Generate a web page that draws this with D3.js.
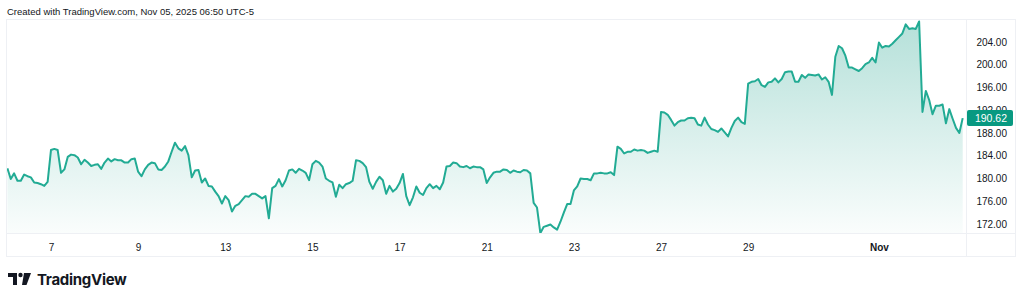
<!DOCTYPE html>
<html><head><meta charset="utf-8">
<script src="https://cdn.jsdelivr.net/npm/d3@7"></script>
<style>
html,body{margin:0;padding:0;background:#fff;}
svg{display:block;font-family:"Liberation Sans",Arial,sans-serif;}
</style></head>
<body><svg id="c" width="1024" height="302"></svg>
<script>
// 30-minute bars (regular session), Oct 6 – Nov 4 2025
const prices = [
181.8,179.9,180.9,179.6,179.6,180.7,180.4,180.2,179.3,179.2,179.0,178.7,179.4,
185.0,185.2,185.0,181.0,181.6,183.8,184.2,184.1,183.7,182.5,183.3,182.8,182.2,
182.4,182.5,181.7,182.8,183.5,183.0,183.4,183.2,183.2,182.8,182.8,183.4,183.5,
181.2,180.4,181.6,182.4,182.8,182.7,181.6,181.5,182.1,183.0,184.7,186.3,185.3,
184.9,185.7,184.1,180.2,181.4,181.5,179.3,180.0,178.7,178.6,177.7,176.9,175.6,
176.9,176.2,174.2,175.2,175.5,176.2,176.9,176.8,177.3,177.3,176.9,176.5,176.9,
173.0,178.3,178.7,179.9,178.6,179.7,181.4,181.6,181.0,181.7,181.4,181.0,179.7,
182.5,183.1,182.8,182.1,180.0,179.6,179.3,176.8,178.9,178.3,179.0,179.2,179.6,
183.2,183.1,182.7,182.0,179.4,178.2,179.4,180.3,179.7,177.3,178.7,177.7,178.2,
179.2,180.8,176.9,175.3,176.7,178.6,177.5,177.1,178.3,179.0,178.3,178.7,178.1,
179.3,182.1,182.2,182.8,182.7,182.1,182.0,182.2,181.8,182.1,182.0,182.0,181.6,
179.2,180.2,181.0,181.2,181.2,181.6,181.5,181.0,181.4,181.2,181.1,181.5,181.4,
180.9,175.7,174.9,170.4,171.5,171.7,171.9,171.4,171.0,172.4,174.0,175.5,175.5,
177.9,178.6,180.0,179.9,179.9,179.7,180.9,180.9,181.0,180.9,180.9,181.1,180.6,
185.6,185.2,184.4,184.7,184.7,185.1,184.9,185.0,184.9,184.5,184.7,184.9,184.7,
191.7,191.6,191.2,190.3,189.3,189.9,190.2,190.2,190.6,190.7,190.6,189.5,189.3,
190.7,189.5,188.7,188.5,188.2,188.8,188.1,187.4,188.9,190.1,190.7,189.9,189.6,
196.7,197.0,197.1,197.5,196.4,196.1,196.9,197.0,197.6,196.9,197.5,198.7,198.8,
198.8,197.0,197.0,198.2,197.7,198.3,198.2,198.1,198.3,197.4,197.8,197.0,194.7,
201.4,203.3,202.9,201.6,199.5,199.5,199.2,198.9,199.4,200.1,200.4,201.2,200.4,
203.9,203.0,203.3,203.2,203.7,204.3,204.9,205.5,207.1,206.3,206.4,206.3,207.6,
191.7,195.4,193.8,191.3,192.8,192.8,193.0,189.7,192.2,190.5,188.9,188.0,190.62
];
const tickBars = [13, 39, 65, 91, 117, 143, 169, 195, 221, 260];
const tickLabels = ["7", "9", "13", "15", "17", "21", "23", "27", "29", "Nov"];
const yTicks = [172, 176, 180, 184, 188, 192, 196, 200, 204];
const lastPrice = 190.62;
const title = "Created with TradingView.com, Nov 05, 2025 06:50 UTC-5";

const svg = d3.select("#c");
const green = "#22ab94";
const P = {left: 7, top: 20, right: 966, bottom: 233, outerRight: 1016, outerBottom: 257};

const x = d3.scaleLinear().domain([0, prices.length - 1]).range([7.4, 962.7]);
const y = d3.scaleLinear().domain([172, 204]).range([224, 42]);

// header
svg.append("text").attr("x", 7).attr("y", 15).attr("font-size", 9.5)
  .attr("fill", "#131722").text(title);

// frame
const frame = svg.append("g").attr("fill", "none").attr("stroke", "#eef0f4").attr("stroke-width", 1);
frame.append("rect").attr("x", P.left - 0.5).attr("y", P.top - 0.5)
  .attr("width", P.outerRight - P.left).attr("height", P.outerBottom - P.top);
frame.append("line").attr("x1", P.left).attr("x2", P.outerRight).attr("y1", P.bottom + 0.5).attr("y2", P.bottom + 0.5);
frame.append("line").attr("x1", P.right + 0.5).attr("x2", P.right + 0.5).attr("y1", P.top).attr("y2", P.outerBottom);

// gradient
const defs = svg.append("defs");
const grad = defs.append("linearGradient").attr("id", "g").attr("gradientUnits", "userSpaceOnUse")
  .attr("x1", 0).attr("x2", 0).attr("y1", y(207.6)).attr("y2", P.bottom);
grad.append("stop").attr("offset", 0).attr("stop-color", "#089981").attr("stop-opacity", 0.3);
grad.append("stop").attr("offset", 1).attr("stop-color", "#089981").attr("stop-opacity", 0.02);
defs.append("clipPath").attr("id", "clip").append("rect")
  .attr("x", P.left).attr("y", P.top).attr("width", P.right - P.left).attr("height", P.bottom - P.top);

const g = svg.append("g").attr("clip-path", "url(#clip)");
g.append("path").datum(prices)
  .attr("d", d3.area().x((d, i) => x(i)).y0(P.bottom).y1(d => y(d)))
  .attr("fill", "url(#g)");
g.append("path").datum(prices)
  .attr("d", d3.line().x((d, i) => x(i)).y(d => y(d)))
  .attr("fill", "none").attr("stroke", green).attr("stroke-width", 2)
  .attr("stroke-linejoin", "round");

// x axis
const xa = svg.append("g").attr("transform", `translate(0,${P.bottom})`)
  .call(d3.axisBottom(x).tickValues(tickBars).tickSize(0).tickPadding(0)
    .tickFormat((d, i) => tickLabels[i]));
xa.select(".domain").remove();
xa.selectAll("text").attr("dy", 0).attr("y", 18).attr("font-size", 10)
  .attr("font-family", "Liberation Sans, Arial, sans-serif").attr("fill", "#131722")
  .attr("font-weight", (d, i) => tickLabels[i] === "Nov" ? "bold" : "normal");

// y axis
const ya = svg.append("g").attr("transform", `translate(${P.right},0)`)
  .call(d3.axisRight(y).tickValues(yTicks).tickSize(0).tickPadding(0).tickFormat(d3.format(".2f")));
ya.select(".domain").remove();
ya.selectAll("text").attr("x", 41).attr("text-anchor", "end").attr("font-size", 10)
  .attr("font-family", "Liberation Sans, Arial, sans-serif").attr("fill", "#131722");

// last price label
const lp = svg.append("g").attr("transform", `translate(0,${y(lastPrice)})`);
lp.append("rect").attr("x", 967).attr("y", -8).attr("width", 46).attr("height", 16).attr("rx", 2).attr("fill", "#089981");
lp.append("text").attr("x", 1007).attr("y", 4).attr("text-anchor", "end").attr("font-size", 10.5)
  .attr("fill", "#fff").text(d3.format(".2f")(lastPrice));

// logo
const logo = svg.append("g").attr("fill", "#131722");
logo.append("path").attr("d", "M8,273 H17 V285 H13 V277 H8 Z");
logo.append("circle").attr("cx", 20.5).attr("cy", 275).attr("r", 2.2);
logo.append("path").attr("d", "M24,273 H31 L26.5,285 H22 Z");
logo.append("text").attr("x", 37).attr("y", 285).attr("font-size", 15).attr("font-weight", "bold")
  .attr("letter-spacing", -0.3)
  .attr("font-family", "Inter, Liberation Sans, Arial, sans-serif").text("TradingView");
</script></body></html>
